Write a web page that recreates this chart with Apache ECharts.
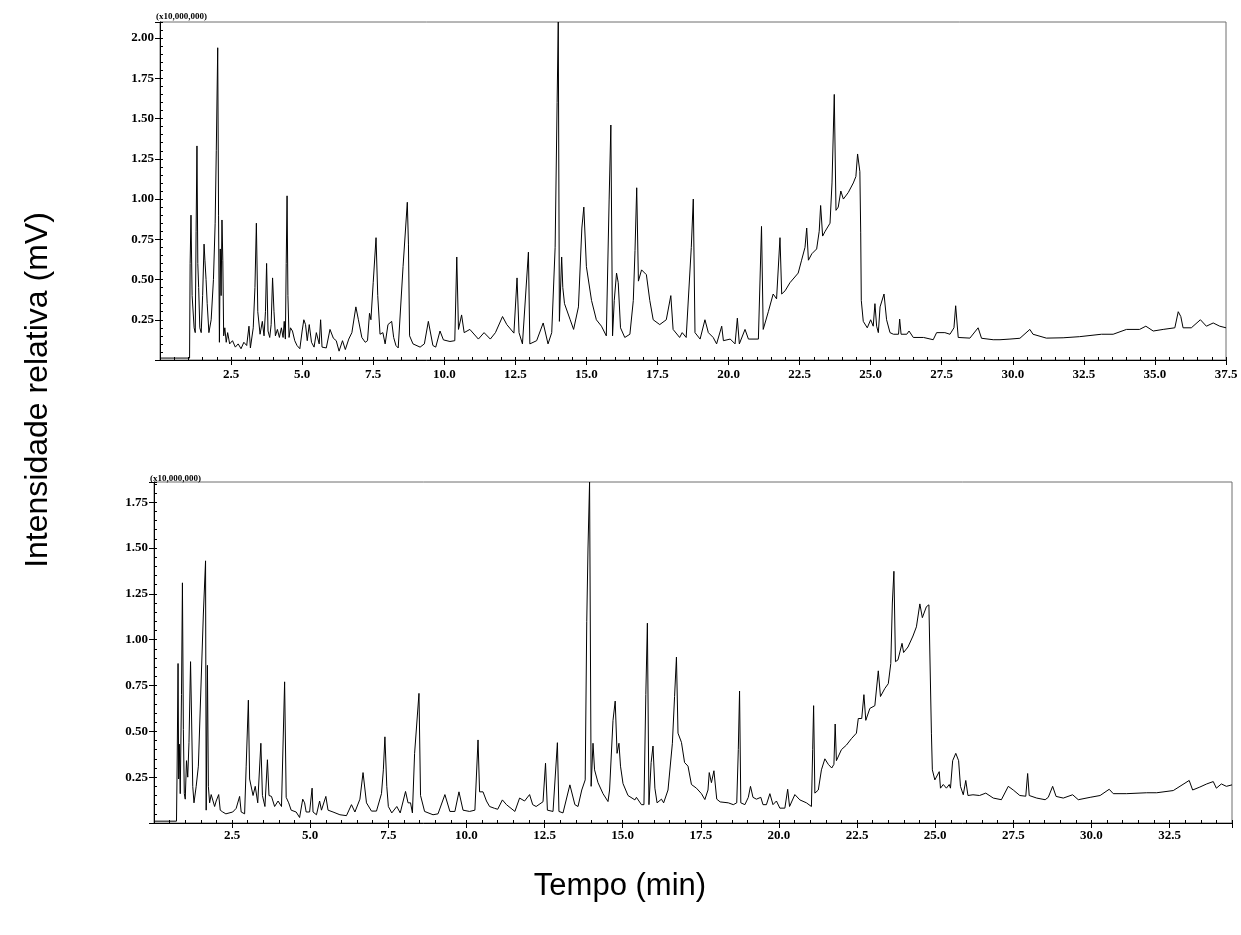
<!DOCTYPE html>
<html>
<head>
<meta charset="utf-8">
<script src="https://cdn.jsdelivr.net/npm/echarts/dist/echarts.min.js"></script>
<style>
  html, body { margin: 0; padding: 0; background: #fff; }
  #chart-content { width: 1241px; height: 935px; }
</style>
</head>
<body>
<div id="chart-content"></div>
<script>
// cromatograma superior: [tempo (min), intensidade (x10,000,000)]
const cromatogramaA = [
  [0.00, 0.012], [1.04, 0.012], [1.06, 0.60], [1.09, 0.90], [1.13, 0.40], [1.20, 0.20], [1.24, 0.17],
  [1.27, 0.80], [1.30, 1.33], [1.33, 0.60], [1.36, 0.45], [1.40, 0.20], [1.45, 0.17], [1.50, 0.40],
  [1.55, 0.72], [1.58, 0.62], [1.62, 0.50], [1.66, 0.35], [1.72, 0.17], [1.80, 0.25], [1.88, 0.50],
  [1.94, 0.85], [1.98, 1.30], [2.03, 1.94], [2.06, 0.90], [2.09, 0.11], [2.12, 0.69], [2.15, 0.40],
  [2.18, 0.87], [2.21, 0.62], [2.24, 0.15], [2.28, 0.20], [2.33, 0.11], [2.38, 0.17], [2.45, 0.10],
  [2.55, 0.12], [2.65, 0.08], [2.75, 0.10], [2.85, 0.07], [2.95, 0.11], [3.05, 0.09], [3.13, 0.21],
  [3.18, 0.075], [3.28, 0.20], [3.34, 0.45], [3.39, 0.85], [3.44, 0.30], [3.52, 0.16], [3.60, 0.24],
  [3.66, 0.15], [3.71, 0.30], [3.75, 0.60], [3.80, 0.18], [3.86, 0.14], [3.91, 0.22], [3.96, 0.51],
  [4.01, 0.30], [4.06, 0.15], [4.13, 0.19], [4.20, 0.14], [4.27, 0.20], [4.33, 0.14], [4.37, 0.24],
  [4.41, 0.13], [4.44, 0.60], [4.47, 1.02], [4.50, 0.40], [4.54, 0.14], [4.59, 0.20], [4.66, 0.18],
  [4.74, 0.12], [4.82, 0.09], [4.92, 0.07], [5.00, 0.18], [5.06, 0.25], [5.12, 0.22], [5.18, 0.12],
  [5.25, 0.22], [5.33, 0.11], [5.42, 0.08], [5.50, 0.17], [5.60, 0.10], [5.65, 0.25], [5.70, 0.08],
  [5.85, 0.075], [5.98, 0.19], [6.10, 0.135], [6.20, 0.12], [6.30, 0.055], [6.42, 0.12], [6.52, 0.065],
  [6.64, 0.13], [6.75, 0.17], [6.89, 0.33], [6.98, 0.25], [7.10, 0.14], [7.22, 0.11], [7.30, 0.12],
  [7.37, 0.29], [7.42, 0.25], [7.50, 0.48], [7.60, 0.76], [7.66, 0.40], [7.74, 0.16], [7.84, 0.17],
  [7.92, 0.10], [8.02, 0.22], [8.15, 0.24], [8.22, 0.14], [8.30, 0.09], [8.38, 0.075], [8.55, 0.58],
  [8.70, 0.98], [8.74, 0.72], [8.78, 0.15], [8.90, 0.10], [9.15, 0.08], [9.30, 0.10], [9.44, 0.24],
  [9.60, 0.09], [9.70, 0.08], [9.85, 0.18], [9.97, 0.125], [10.20, 0.115], [10.37, 0.12], [10.44, 0.64],
  [10.50, 0.19], [10.61, 0.28], [10.70, 0.17], [10.90, 0.19], [11.20, 0.13], [11.40, 0.17], [11.62, 0.13],
  [11.80, 0.17], [12.05, 0.27], [12.20, 0.22], [12.45, 0.167], [12.56, 0.51], [12.63, 0.17], [12.75, 0.10],
  [12.96, 0.67], [13.01, 0.10], [13.25, 0.12], [13.48, 0.23], [13.65, 0.10], [13.78, 0.17], [13.90, 0.70],
  [13.97, 1.60], [14.01, 2.10], [14.05, 0.24], [14.13, 0.64], [14.17, 0.45], [14.23, 0.35], [14.29, 0.35],
  [14.43, 0.25], [14.55, 0.19], [14.72, 0.33], [14.84, 0.82], [14.91, 0.95], [15.00, 0.58], [15.18, 0.37],
  [15.35, 0.25], [15.53, 0.21], [15.70, 0.15], [15.80, 1.00], [15.86, 1.46], [15.92, 0.15], [15.98, 0.37],
  [16.06, 0.54], [16.12, 0.48], [16.20, 0.20], [16.35, 0.14], [16.53, 0.16], [16.65, 0.37], [16.71, 0.68],
  [16.77, 1.07], [16.83, 0.49], [16.94, 0.56], [17.11, 0.53], [17.23, 0.37], [17.35, 0.25], [17.58, 0.22],
  [17.81, 0.25], [17.97, 0.40], [18.05, 0.19], [18.28, 0.14], [18.37, 0.17], [18.51, 0.14], [18.69, 0.70],
  [18.76, 1.00], [18.82, 0.17], [19.00, 0.13], [19.17, 0.25], [19.29, 0.17], [19.46, 0.14], [19.58, 0.10],
  [19.76, 0.21], [19.82, 0.12], [20.06, 0.13], [20.23, 0.10], [20.31, 0.26], [20.38, 0.10], [20.58, 0.19],
  [20.70, 0.13], [21.05, 0.13], [21.16, 0.83], [21.22, 0.19], [21.40, 0.30], [21.57, 0.41], [21.69, 0.38],
  [21.81, 0.76], [21.87, 0.41], [21.99, 0.43], [22.16, 0.48], [22.45, 0.54], [22.57, 0.62], [22.69, 0.70],
  [22.75, 0.82], [22.81, 0.62], [22.93, 0.66], [23.10, 0.69], [23.19, 0.80], [23.24, 0.96], [23.31, 0.77],
  [23.40, 0.80], [23.57, 0.85], [23.64, 1.10], [23.72, 1.65], [23.78, 0.93], [23.86, 0.95], [23.95, 1.05],
  [24.04, 1.00], [24.21, 1.04], [24.39, 1.10], [24.48, 1.14], [24.54, 1.28], [24.62, 1.17], [24.65, 0.79],
  [24.67, 0.37], [24.74, 0.24], [24.88, 0.20], [25.00, 0.25], [25.09, 0.21], [25.15, 0.35], [25.21, 0.21],
  [25.27, 0.17], [25.33, 0.33], [25.47, 0.41], [25.56, 0.25], [25.68, 0.17], [25.80, 0.16], [25.98, 0.16],
  [26.02, 0.254], [26.07, 0.16], [26.27, 0.16], [26.35, 0.18], [26.50, 0.14], [26.86, 0.14], [27.20, 0.126],
  [27.32, 0.17], [27.61, 0.17], [27.79, 0.16], [27.93, 0.20], [27.99, 0.337], [28.08, 0.14], [28.49, 0.136],
  [28.78, 0.20], [28.90, 0.135], [29.31, 0.126], [29.55, 0.126], [29.90, 0.13], [30.25, 0.135], [30.60, 0.19],
  [30.71, 0.16], [31.18, 0.136], [31.77, 0.138], [32.35, 0.145], [33.12, 0.16], [33.53, 0.16], [34.00, 0.19],
  [34.46, 0.19], [34.68, 0.21], [34.94, 0.18], [35.29, 0.19], [35.70, 0.20], [35.82, 0.30], [35.91, 0.27],
  [35.99, 0.20], [36.28, 0.20], [36.60, 0.25], [36.81, 0.21], [37.05, 0.23], [37.28, 0.21], [37.50, 0.20]
]

// cromatograma inferior
const cromatogramaB = [
  [0.00, 0.01], [0.72, 0.01], [0.74, 0.30], [0.77, 0.87], [0.79, 0.24], [0.81, 0.43], [0.84, 0.16],
  [0.88, 0.70], [0.91, 1.31], [0.94, 0.51], [0.97, 0.16], [1.00, 0.13], [1.04, 0.34], [1.08, 0.25],
  [1.12, 0.44], [1.17, 0.88], [1.20, 0.60], [1.24, 0.20], [1.28, 0.11], [1.35, 0.20], [1.42, 0.31],
  [1.51, 0.78], [1.58, 1.14], [1.65, 1.43], [1.67, 0.07], [1.71, 0.86], [1.74, 0.20], [1.78, 0.11],
  [1.83, 0.155], [1.88, 0.16], [1.94, 0.09], [1.99, 0.12], [2.07, 0.155], [2.12, 0.07], [2.20, 0.06],
  [2.30, 0.05], [2.52, 0.06], [2.63, 0.08], [2.74, 0.145], [2.79, 0.06], [2.90, 0.05], [2.95, 0.31],
  [3.02, 0.67], [3.06, 0.24], [3.17, 0.15], [3.24, 0.20], [3.32, 0.11], [3.42, 0.435], [3.47, 0.15],
  [3.55, 0.09], [3.63, 0.345], [3.68, 0.15], [3.76, 0.145], [3.86, 0.09], [3.97, 0.12], [4.08, 0.09],
  [4.18, 0.77], [4.23, 0.14], [4.31, 0.11], [4.39, 0.07], [4.55, 0.06], [4.66, 0.03], [4.76, 0.13],
  [4.82, 0.11], [4.87, 0.06], [4.98, 0.06], [5.06, 0.19], [5.09, 0.06], [5.20, 0.045], [5.30, 0.12],
  [5.36, 0.07], [5.50, 0.145], [5.57, 0.07], [5.73, 0.06], [5.95, 0.045], [6.16, 0.04], [6.32, 0.10],
  [6.43, 0.06], [6.59, 0.13], [6.69, 0.275], [6.80, 0.11], [6.96, 0.065], [7.12, 0.065], [7.28, 0.16],
  [7.34, 0.29], [7.39, 0.47], [7.45, 0.20], [7.50, 0.09], [7.61, 0.055], [7.77, 0.09], [7.88, 0.055],
  [8.05, 0.172], [8.13, 0.11], [8.21, 0.11], [8.27, 0.055], [8.34, 0.38], [8.48, 0.707], [8.53, 0.15],
  [8.66, 0.063], [8.93, 0.045], [9.09, 0.05], [9.31, 0.155], [9.47, 0.063], [9.63, 0.063], [9.76, 0.17],
  [9.89, 0.07], [10.10, 0.063], [10.27, 0.07], [10.37, 0.453], [10.42, 0.17], [10.53, 0.17], [10.64, 0.12],
  [10.74, 0.09], [10.90, 0.08], [11.00, 0.075], [11.15, 0.126], [11.28, 0.10], [11.55, 0.063], [11.70, 0.136],
  [11.86, 0.12], [12.02, 0.155], [12.12, 0.10], [12.23, 0.09], [12.45, 0.116], [12.53, 0.326], [12.59, 0.07],
  [12.77, 0.063], [12.91, 0.438], [12.96, 0.063], [13.09, 0.055], [13.31, 0.208], [13.47, 0.10], [13.57, 0.09],
  [13.69, 0.18], [13.80, 0.235], [13.85, 1.10], [13.89, 1.50], [13.94, 1.86], [13.99, 0.20], [14.05, 0.435],
  [14.10, 0.29], [14.21, 0.22], [14.37, 0.16], [14.53, 0.117], [14.58, 0.18], [14.69, 0.56], [14.76, 0.665],
  [14.82, 0.38], [14.88, 0.435], [14.93, 0.31], [15.01, 0.215], [15.17, 0.15], [15.39, 0.126], [15.44, 0.14],
  [15.60, 0.10], [15.68, 0.10], [15.74, 0.70], [15.79, 1.09], [15.84, 0.10], [15.91, 0.33], [15.97, 0.42],
  [16.03, 0.19], [16.10, 0.11], [16.24, 0.13], [16.31, 0.11], [16.45, 0.18], [16.59, 0.435], [16.66, 0.69],
  [16.72, 0.905], [16.77, 0.49], [16.88, 0.44], [16.98, 0.33], [17.09, 0.31], [17.20, 0.21], [17.36, 0.19],
  [17.52, 0.16], [17.63, 0.128], [17.73, 0.18], [17.77, 0.275], [17.84, 0.22], [17.92, 0.285], [18.01, 0.13],
  [18.12, 0.115], [18.38, 0.11], [18.54, 0.10], [18.65, 0.11], [18.70, 0.40], [18.74, 0.72], [18.78, 0.11],
  [18.91, 0.10], [19.02, 0.14], [19.09, 0.20], [19.17, 0.14], [19.28, 0.13], [19.42, 0.14], [19.49, 0.10],
  [19.60, 0.10], [19.71, 0.16], [19.81, 0.10], [19.92, 0.12], [20.03, 0.081], [20.19, 0.081], [20.28, 0.184],
  [20.34, 0.09], [20.51, 0.155], [20.67, 0.126], [20.88, 0.11], [21.04, 0.09], [21.08, 0.40], [21.11, 0.64],
  [21.15, 0.163], [21.26, 0.18], [21.36, 0.29], [21.47, 0.35], [21.58, 0.32], [21.69, 0.30], [21.76, 0.32],
  [21.80, 0.54], [21.84, 0.34], [22.00, 0.40], [22.16, 0.425], [22.32, 0.46], [22.48, 0.49], [22.54, 0.57],
  [22.65, 0.57], [22.72, 0.70], [22.78, 0.56], [22.91, 0.625], [23.07, 0.64], [23.18, 0.83], [23.25, 0.69],
  [23.39, 0.734], [23.50, 0.76], [23.58, 0.87], [23.63, 1.20], [23.68, 1.373], [23.73, 0.88], [23.81, 0.89],
  [23.94, 0.98], [23.99, 0.93], [24.13, 0.96], [24.29, 1.02], [24.40, 1.07], [24.51, 1.195], [24.59, 1.12],
  [24.72, 1.18], [24.80, 1.19], [24.86, 1.18], [24.88, 0.49], [24.91, 0.29], [24.99, 0.235], [25.13, 0.28],
  [25.17, 0.19], [25.26, 0.21], [25.36, 0.19], [25.45, 0.21], [25.49, 0.19], [25.56, 0.34], [25.66, 0.38],
  [25.75, 0.34], [25.81, 0.20], [25.90, 0.154], [25.98, 0.232], [26.05, 0.15], [26.21, 0.154], [26.42, 0.15],
  [26.62, 0.163], [26.86, 0.136], [27.12, 0.127], [27.34, 0.20], [27.50, 0.18], [27.71, 0.15], [27.90, 0.146],
  [27.96, 0.27], [28.01, 0.15], [28.25, 0.136], [28.52, 0.127], [28.62, 0.14], [28.76, 0.20], [28.87, 0.145],
  [29.10, 0.136], [29.40, 0.154], [29.58, 0.127], [29.96, 0.14], [30.28, 0.15], [30.57, 0.184], [30.70, 0.16],
  [31.13, 0.16], [31.77, 0.165], [32.09, 0.165], [32.62, 0.177], [33.13, 0.232], [33.24, 0.18], [33.47, 0.196],
  [33.69, 0.213], [33.90, 0.226], [34.00, 0.19], [34.16, 0.213], [34.32, 0.20], [34.50, 0.208]
]

// rótulos dos eixos
const tempoTicksA = [2.5, 5.0, 7.5, 10.0, 12.5, 15.0, 17.5, 20.0, 22.5, 25.0, 27.5, 30.0, 32.5, 35.0, 37.5]
const tempoTicksB = [2.5, 5.0, 7.5, 10.0, 12.5, 15.0, 17.5, 20.0, 22.5, 25.0, 27.5, 30.0, 32.5]
const intensTicksA = [0.25, 0.50, 0.75, 1.00, 1.25, 1.50, 1.75, 2.00]
const intensTicksB = [0.25, 0.50, 0.75, 1.00, 1.25, 1.50, 1.75]

const chart = echarts.init(document.getElementById('chart-content'))

const labelFont = {
  fontFamily: '"Liberation Serif", "Times New Roman", serif',
  fontWeight: 'bold',
  fontSize: 13,
  color: '#000'
}

const inList = (list, v) => list.some(t => Math.abs(t - v) < 1e-6)

// eixo principal (linha, marcas longas, rótulos) + eixo só com marcas curtas
function xAxes(gridIndex, max, ticks, margin) {
  return [
    {
      type: 'value', gridIndex, min: 0, max, interval: 2.5,
      axisLine: { show: true, lineStyle: { color: '#000', width: 1 } },
      axisTick: { show: true, length: 5, lineStyle: { color: '#000' } },
      axisLabel: {
        ...labelFont, margin,
        showMaxLabel: true, showMinLabel: false,
        formatter: v => inList(ticks, v) ? v.toFixed(1) : ''
      },
      splitLine: { show: false }
    },
    {
      type: 'value', gridIndex, min: 0, max, interval: 0.5,
      axisLine: { show: false },
      axisTick: { show: true, length: 3, lineStyle: { color: '#000' } },
      axisLabel: { show: false },
      splitLine: { show: false }
    }
  ]
}

function yAxes(gridIndex, max, ticks) {
  return [
    {
      type: 'value', gridIndex, min: 0, max, interval: 0.25,
      axisLine: { show: true, lineStyle: { color: '#000', width: 1 } },
      axisTick: { show: true, length: 5, lineStyle: { color: '#000' } },
      axisLabel: {
        ...labelFont, margin: 6,
        formatter: v => inList(ticks, v) ? v.toFixed(2) : ''
      },
      splitLine: { show: false }
    },
    {
      type: 'value', gridIndex, min: 0, max, interval: 0.05,
      axisLine: { show: false },
      axisTick: { show: true, length: 3, lineStyle: { color: '#000' } },
      axisLabel: { show: false },
      splitLine: { show: false }
    }
  ]
}

const option = {
  animation: false,
  backgroundColor: '#fff',
  grid: [
    { left: 160, top: 22, right: 15, bottom: 575, show: true, borderColor: '#6e6e6e', borderWidth: 1 },
    { left: 154, top: 482, right: 9, bottom: 112, show: true, borderColor: '#6e6e6e', borderWidth: 1 }
  ],
  xAxis: [
    ...xAxes(0, 37.5, tempoTicksA, 8),
    ...xAxes(1, 34.5, tempoTicksB, 6)
  ],
  yAxis: [
    ...yAxes(0, 2.1, intensTicksA),
    ...yAxes(1, 1.86, intensTicksB)
  ],
  series: [
    {
      type: 'line', xAxisIndex: 0, yAxisIndex: 0,
      data: cromatogramaA,
      showSymbol: false, clip: true,
      lineStyle: { color: '#000', width: 1 }
    },
    {
      type: 'line', xAxisIndex: 2, yAxisIndex: 2,
      data: cromatogramaB,
      showSymbol: false, clip: true,
      lineStyle: { color: '#000', width: 1 }
    }
  ],
  graphic: [
    {
      type: 'text', x: 156, y: 17,
      style: { text: '(x10,000,000)', font: 'bold 9px "Liberation Serif"', fill: '#000', verticalAlign: 'middle' }
    },
    {
      type: 'text', x: 150, y: 479,
      style: { text: '(x10,000,000)', font: 'bold 9px "Liberation Serif"', fill: '#000', verticalAlign: 'middle' }
    },
    {
      type: 'text', x: 38, y: 390, rotation: Math.PI / 2,
      style: { text: 'Intensidade relativa (mV)', font: '32px "Liberation Sans"', fill: '#000', align: 'center', verticalAlign: 'middle' }
    },
    {
      type: 'text', x: 620, y: 886,
      style: { text: 'Tempo (min)', font: '31px "Liberation Sans"', fill: '#000', align: 'center', verticalAlign: 'middle' }
    }
  ]
}

chart.setOption(option)
</script>
</body>
</html>
